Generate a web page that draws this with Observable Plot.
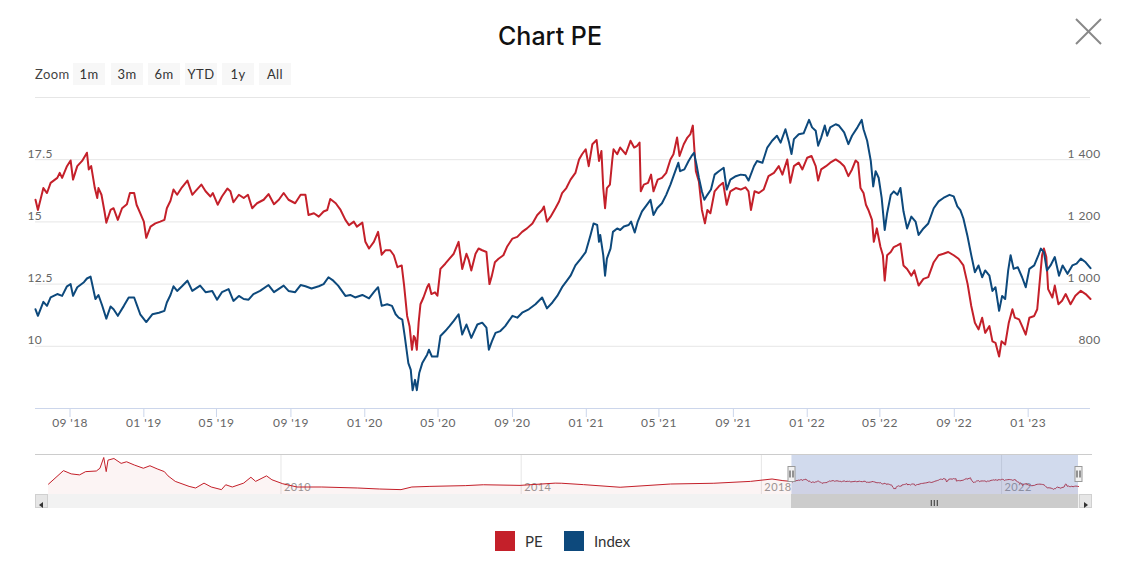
<!DOCTYPE html>
<html><head><meta charset="utf-8">
<script src="https://cdn.jsdelivr.net/npm/d3@7"></script>
<script src="https://cdn.jsdelivr.net/npm/@observablehq/plot@0.6"></script>
<style>
html,body{margin:0;padding:0;background:#fff;}
#root{position:relative;width:1125px;height:567px;overflow:hidden;font-family:Lato,"Open Sans",sans-serif;}
.abs{position:absolute;}
#title{left:0;top:18px;width:1100px;text-align:center;font-family:Inter,sans-serif;font-weight:500;font-size:25px;line-height:36px;color:#111;}
#zoomLabel{left:35px;top:63px;height:22px;line-height:22px;font-size:13px;color:#444;letter-spacing:0.4px;}
.zbtn{position:absolute;top:63px;height:22px;width:32px;background:#f7f7f7;color:#333;font-size:13px;line-height:22px;text-align:center;letter-spacing:0.4px;}
.legsq{position:absolute;width:20px;height:20px;top:531px;}
.legtx{position:absolute;top:531px;height:20px;line-height:20px;font-size:15px;color:#333;}
.sbtn{position:absolute;top:494px;width:13px;height:14px;background:#e6e6e6;border:1px solid #d0d0d0;box-sizing:border-box;}
</style></head>
<body>
<div id="root">
  <div id="title" class="abs">Chart PE</div>
  <div id="zoomLabel" class="abs">Zoom</div>
  <svg class="abs" style="left:1070px;top:13px" width="38" height="38"><line x1="6" y1="6" x2="31" y2="31" stroke="#888" stroke-width="2"/><line x1="31" y1="6" x2="6" y2="31" stroke="#888" stroke-width="2"/></svg>
  <div id="main" class="abs" style="left:0;top:90px"></div>
  <div class="abs" style="left:35px;top:494px;width:1057px;height:14px;background:#f2f2f2"></div>
  <div id="nav" class="abs" style="left:0;top:454px"></div>
  <div class="abs" style="left:35px;top:454px;width:1057px;height:1px;background:#cccccc"></div>
</div>
<script>
// ---- data ----
const peSeries = [
["2018-07-06",15.89],["2018-07-10",15.48],["2018-07-19",16.36],["2018-07-25",16.16],["2018-07-31",16.57],["2018-08-11",16.77],["2018-08-15",16.97],["2018-08-19",16.77],["2018-08-27",17.24],["2018-09-02",17.47],["2018-09-06",16.70],["2018-09-13",17.24],["2018-09-21",17.45],["2018-09-29",17.78],["2018-10-02",17.11],["2018-10-06",17.24],["2018-10-12",16.36],["2018-10-16",15.96],["2018-10-18",16.36],["2018-10-23",16.09],["2018-10-28",15.42],["2018-10-31",14.97],["2018-11-07",15.48],["2018-11-12",15.55],["2018-11-19",15.08],["2018-11-26",15.55],["2018-12-04",15.71],["2018-12-09",16.16],["2018-12-16",16.16],["2018-12-20",15.69],["2018-12-26",15.35],
["2019-01-01",15.01],["2019-01-05",14.36],["2019-01-12",14.81],["2019-01-20",14.94],["2019-01-28",15.01],["2019-02-04",15.08],["2019-02-08",15.55],["2019-02-14",15.85],["2019-02-19",16.30],["2019-02-25",16.09],["2019-03-05",16.39],["2019-03-14",16.66],["2019-03-22",16.09],["2019-03-27",16.23],["2019-04-06",16.50],["2019-04-13",16.23],["2019-04-21",16.02],["2019-04-25",16.16],["2019-05-03",15.69],["2019-05-10",16.02],["2019-05-19",16.34],["2019-05-24",16.23],["2019-05-29",15.79],["2019-06-07",16.09],["2019-06-15",15.96],["2019-06-22",16.09],["2019-06-29",15.55],["2019-07-07",15.75],["2019-07-18",15.89],["2019-07-26",16.12],["2019-08-04",15.71],["2019-08-12",15.89],["2019-08-20",16.16],["2019-08-28",15.89],["2019-09-08",15.75],["2019-09-17",16.09],["2019-09-25",16.09],["2019-09-30",15.28],["2019-10-09",15.35],["2019-10-17",15.21],["2019-10-25",15.42],["2019-10-31",15.48],["2019-11-05",15.92],["2019-11-14",15.75],["2019-11-22",15.48],["2019-11-30",15.08],["2019-12-06",14.87],["2019-12-14",15.01],["2019-12-19",14.81],["2019-12-28",14.97],
["2020-01-02",14.20],["2020-01-08",13.93],["2020-01-16",14.20],["2020-01-23",14.60],["2020-01-29",13.68],["2020-02-04",13.86],["2020-02-12",13.86],["2020-02-18",13.66],["2020-02-24",13.18],["2020-03-02",13.25],["2020-03-06",12.44],["2020-03-11",11.22],["2020-03-15",10.81],["2020-03-19",9.86],["2020-03-22",10.41],["2020-03-24",10.34],["2020-03-27",9.86],["2020-03-30",10.95],["2020-04-02",11.69],["2020-04-07",11.96],["2020-04-13",12.37],["2020-04-16",12.50],["2020-04-20",12.10],["2020-04-26",12.17],["2020-04-30",12.03],["2020-05-05",13.11],["2020-05-13",13.32],["2020-05-20",13.52],["2020-05-27",13.72],["2020-06-04",14.20],["2020-06-10",13.11],["2020-06-17",13.72],["2020-06-21",13.45],["2020-06-25",13.05],["2020-07-02",13.72],["2020-07-07",13.93],["2020-07-13",13.86],["2020-07-20",13.79],["2020-07-23",12.98],["2020-07-25",12.50],["2020-07-29",12.84],["2020-08-03",13.38],["2020-08-09",13.52],["2020-08-17",13.66],["2020-08-23",14.00],["2020-09-01",14.33],["2020-09-09",14.40],["2020-09-17",14.60],["2020-09-25",14.74],["2020-10-04",14.94],["2020-10-12",15.28],["2020-10-20",15.48],["2020-10-23",15.62],["2020-10-28",15.01],["2020-11-03",15.21],["2020-11-11",15.55],["2020-11-17",15.82],["2020-11-22",16.16],["2020-11-29",16.36],["2020-12-06",16.70],["2020-12-14",16.97],["2020-12-20",17.51],["2020-12-25",17.72],["2020-12-31",17.92],
["2021-01-05",17.24],["2021-01-11",18.12],["2021-01-18",18.29],["2021-01-22",17.45],["2021-01-26",17.85],["2021-01-29",16.36],["2021-02-01",15.55],["2021-02-04",16.36],["2021-02-09",16.50],["2021-02-13",17.51],["2021-02-15",17.92],["2021-02-21",17.72],["2021-02-26",17.99],["2021-03-07",17.72],["2021-03-15",18.26],["2021-03-21",17.99],["2021-03-26",18.06],["2021-03-30",18.19],["2021-04-01",16.23],["2021-04-06",16.50],["2021-04-13",16.57],["2021-04-18",16.90],["2021-04-22",16.23],["2021-04-29",16.70],["2021-05-06",16.77],["2021-05-13",16.97],["2021-05-20",17.51],["2021-05-25",17.72],["2021-05-31",18.39],["2021-06-04",17.65],["2021-06-11",18.12],["2021-06-17",18.39],["2021-06-22",18.53],["2021-06-26",18.87],["2021-06-28",18.12],["2021-07-01",17.04],["2021-07-06",16.63],["2021-07-11",15.48],["2021-07-16",14.94],["2021-07-20",15.48],["2021-07-25",15.35],["2021-08-01",16.23],["2021-08-08",16.43],["2021-08-15",16.57],["2021-08-21",15.69],["2021-08-27",16.23],["2021-09-05",16.36],["2021-09-13",16.30],["2021-09-21",16.39],["2021-09-26",16.23],["2021-09-30",15.48],["2021-10-06",16.23],["2021-10-13",16.16],["2021-10-21",16.30],["2021-10-29",16.84],["2021-11-07",16.97],["2021-11-15",17.24],["2021-11-21",16.90],["2021-11-29",17.51],["2021-12-04",16.57],["2021-12-10",17.24],["2021-12-18",17.38],["2021-12-24",17.11],
["2022-01-01",17.58],["2022-01-08",17.65],["2022-01-15",17.24],["2022-01-19",16.66],["2022-01-24",17.11],["2022-02-01",17.24],["2022-02-08",17.38],["2022-02-17",17.51],["2022-02-25",17.38],["2022-03-03",17.24],["2022-03-10",16.84],["2022-03-16",17.11],["2022-03-22",17.47],["2022-03-26",17.38],["2022-03-30",16.36],["2022-04-04",16.16],["2022-04-08",15.69],["2022-04-12",15.48],["2022-04-18",15.08],["2022-04-21",14.20],["2022-04-26",14.74],["2022-05-02",13.99],["2022-05-06",13.66],["2022-05-09",12.64],["2022-05-13",13.66],["2022-05-19",13.79],["2022-05-24",13.99],["2022-05-30",14.06],["2022-06-04",14.13],["2022-06-09",13.25],["2022-06-15",13.11],["2022-06-22",12.84],["2022-06-27",13.05],["2022-07-04",12.44],["2022-07-12",12.71],["2022-07-20",12.78],["2022-07-29",13.38],["2022-08-06",13.66],["2022-08-14",13.72],["2022-08-22",13.79],["2022-08-31",13.66],["2022-09-08",13.52],["2022-09-16",13.25],["2022-09-23",12.50],["2022-09-29",11.62],["2022-10-05",10.95],["2022-10-11",10.68],["2022-10-17",11.15],["2022-10-22",10.54],["2022-10-29",10.81],["2022-11-03",10.20],["2022-11-08",10.14],["2022-11-14",9.59],["2022-11-18",10.20],["2022-11-24",10.07],["2022-11-30",10.95],["2022-12-06",11.49],["2022-12-10",11.15],["2022-12-17",11.08],["2022-12-22",10.81],["2022-12-28",10.47],
["2023-01-03",11.15],["2023-01-11",11.22],["2023-01-16",11.49],["2023-01-22",13.11],["2023-01-24",13.66],["2023-01-27",13.93],["2023-01-31",13.59],["2023-02-03",12.30],["2023-02-10",11.96],["2023-02-14",12.44],["2023-02-20",11.69],["2023-02-26",11.83],["2023-03-04",12.10],["2023-03-12",11.69],["2023-03-20",12.03],["2023-03-29",12.23],["2023-04-06",12.10],["2023-04-14",11.90]
];
const indexSeries = [
["2018-07-06",919],["2018-07-10",898],["2018-07-19",943],["2018-07-25",930],["2018-07-31",957],["2018-08-11",968],["2018-08-19",962],["2018-08-27",993],["2018-09-02",1000],["2018-09-06",962],["2018-09-13",990],["2018-09-24",1006],["2018-09-29",1018],["2018-10-05",1024],["2018-10-07",1006],["2018-10-13",952],["2018-10-18",965],["2018-10-24",932],["2018-10-31",889],["2018-11-07",928],["2018-11-12",919],["2018-11-19",898],["2018-11-29",930],["2018-12-07",957],["2018-12-16",957],["2018-12-21",930],["2018-12-26",903],
["2019-01-05",878],["2019-01-15",903],["2019-01-26",908],["2019-02-04",914],["2019-02-08",941],["2019-02-14",965],["2019-02-19",993],["2019-02-25",978],["2019-03-05",993],["2019-03-14",1011],["2019-03-22",978],["2019-04-04",995],["2019-04-13",974],["2019-04-24",978],["2019-05-02",950],["2019-05-10",974],["2019-05-21",984],["2019-05-29",946],["2019-06-07",962],["2019-06-15",952],["2019-06-23",950],["2019-07-01",968],["2019-07-12",978],["2019-07-26",997],["2019-08-04",974],["2019-08-20",995],["2019-08-28",978],["2019-09-08",974],["2019-09-17",997],["2019-09-25",993],["2019-10-05",986],["2019-10-17",993],["2019-10-25",1000],["2019-11-02",1022],["2019-11-10",1011],["2019-11-18",995],["2019-11-30",962],["2019-12-08",965],["2019-12-16",957],["2019-12-28",965],
["2020-01-08",954],["2020-01-16",974],["2020-01-23",990],["2020-01-29",930],["2020-02-07",935],["2020-02-15",930],["2020-02-21",903],["2020-02-26",892],["2020-03-03",886],["2020-03-07",833],["2020-03-13",746],["2020-03-17",724],["2020-03-20",659],["2020-03-24",692],["2020-03-27",659],["2020-03-31",714],["2020-04-05",746],["2020-04-13",773],["2020-04-16",789],["2020-04-21",767],["2020-04-30",767],["2020-05-05",833],["2020-05-13",849],["2020-05-20",865],["2020-05-27",882],["2020-06-04",903],["2020-06-10",838],["2020-06-17",870],["2020-06-25",827],["2020-07-05",870],["2020-07-13",876],["2020-07-20",860],["2020-07-24",789],["2020-07-29",816],["2020-08-04",843],["2020-08-12",849],["2020-08-20",865],["2020-09-01",898],["2020-09-09",892],["2020-09-17",908],["2020-09-28",919],["2020-10-09",935],["2020-10-20",957],["2020-10-28",922],["2020-11-06",941],["2020-11-14",962],["2020-11-22",990],["2020-11-30",1011],["2020-12-06",1027],["2020-12-14",1060],["2020-12-23",1082],["2020-12-31",1103],
["2021-01-08",1158],["2021-01-13",1195],["2021-01-19",1190],["2021-01-22",1136],["2021-01-24",1158],["2021-01-29",1093],["2021-02-01",1027],["2021-02-04",1082],["2021-02-10",1114],["2021-02-14",1168],["2021-02-21",1179],["2021-02-26",1174],["2021-03-04",1185],["2021-03-12",1190],["2021-03-16",1201],["2021-03-22",1166],["2021-03-27",1201],["2021-04-03",1234],["2021-04-11",1255],["2021-04-17",1271],["2021-04-22",1222],["2021-04-28",1244],["2021-05-06",1260],["2021-05-13",1287],["2021-05-20",1320],["2021-05-28",1363],["2021-06-02",1390],["2021-06-05",1363],["2021-06-12",1369],["2021-06-19",1396],["2021-06-24",1412],["2021-06-28",1422],["2021-07-02",1385],["2021-07-06",1342],["2021-07-11",1298],["2021-07-15",1271],["2021-07-20",1287],["2021-07-26",1304],["2021-08-01",1352],["2021-08-08",1363],["2021-08-16",1374],["2021-08-21",1304],["2021-08-27",1336],["2021-09-05",1347],["2021-09-13",1352],["2021-09-21",1350],["2021-09-26",1333],["2021-10-05",1379],["2021-10-10",1396],["2021-10-19",1390],["2021-10-27",1439],["2021-11-04",1461],["2021-11-12",1477],["2021-11-18",1455],["2021-11-26",1498],["2021-12-02",1455],["2021-12-06",1418],["2021-12-10",1466],["2021-12-18",1482],["2021-12-26",1485],
["2022-01-04",1528],["2022-01-09",1504],["2022-01-15",1493],["2022-01-19",1445],["2022-01-24",1471],["2022-01-30",1510],["2022-02-03",1477],["2022-02-08",1504],["2022-02-17",1514],["2022-02-22",1510],["2022-03-03",1488],["2022-03-10",1450],["2022-03-16",1477],["2022-03-25",1504],["2022-04-01",1528],["2022-04-04",1498],["2022-04-10",1461],["2022-04-16",1396],["2022-04-20",1314],["2022-04-24",1363],["2022-04-29",1342],["2022-05-04",1277],["2022-05-09",1174],["2022-05-13",1228],["2022-05-19",1287],["2022-05-24",1298],["2022-05-30",1287],["2022-06-04",1309],["2022-06-09",1234],["2022-06-15",1179],["2022-06-22",1217],["2022-06-29",1201],["2022-07-04",1158],["2022-07-12",1179],["2022-07-20",1195],["2022-07-29",1244],["2022-08-06",1266],["2022-08-14",1277],["2022-08-24",1287],["2022-08-31",1282],["2022-09-06",1250],["2022-09-11",1238],["2022-09-16",1211],["2022-09-23",1152],["2022-09-29",1093],["2022-10-05",1038],["2022-10-11",1060],["2022-10-17",1022],["2022-10-22",1044],["2022-10-29",1027],["2022-11-03",978],["2022-11-08",990],["2022-11-14",914],["2022-11-19",962],["2022-11-24",952],["2022-11-29",1044],["2022-12-03",1093],["2022-12-08",1049],["2022-12-15",1054],["2022-12-22",1022],["2022-12-28",990],
["2023-01-03",1049],["2023-01-11",1060],["2023-01-18",1093],["2023-01-22",1114],["2023-01-27",1103],["2023-02-01",1044],["2023-02-07",1060],["2023-02-14",1087],["2023-02-21",1027],["2023-02-27",1060],["2023-03-07",1033],["2023-03-15",1060],["2023-03-22",1066],["2023-03-29",1082],["2023-04-06",1070],["2023-04-14",1051]
];
// PE history shown only in the navigator (before the selected range)
const navHistory = [
["2006-02-17",13.8],["2006-05-19",24.6],["2006-07-05",22.0],["2006-08-25",21.2],["2006-10-01",23.8],["2006-12-05",24.3],["2006-12-27",26.5],["2007-01-19",35.1],["2007-02-03",23.8],["2007-02-14",33.0],["2007-03-22",34.3],["2007-05-05",30.4],["2007-06-07",31.7],["2007-07-24",29.1],["2007-09-17",26.5],["2007-10-27",28.5],["2007-12-10",26.0],["2008-01-23",23.8],["2008-02-14",20.4],["2008-03-29",16.0],["2008-06-21",12.0],["2008-07-31",10.7],["2008-09-20",14.6],["2008-11-03",11.5],["2009-01-04",9.4],["2009-01-30",13.3],["2009-03-11",11.5],["2009-05-19",14.6],["2009-07-02",19.3],["2009-07-31",16.0],["2009-10-05",20.4],["2009-11-07",17.3],["2010-01-12",14.1],["2010-04-09",11.5],["2010-09-06",11.5],["2011-04-13",10.7],["2011-08-22",9.9],["2012-01-01",9.4],["2012-03-07",11.5],["2012-06-25",12.0],["2013-01-26",12.6],["2013-05-16",13.3],["2013-12-25",12.8],["2014-07-27",14.6],["2014-09-05",14.5],["2015-01-15",13.4],["2015-08-26",11.3],["2016-06-28",13.9],["2017-03-18",14.5],["2017-10-27",16.0],["2018-03-07",17.9],["2018-05-12",16.6]
];
const xTicks = ["2018-09-01","2019-01-01","2019-05-01","2019-09-01","2020-01-01","2020-05-01","2020-09-01","2021-01-01","2021-05-01","2021-09-01","2022-01-01","2022-05-01","2022-09-01","2023-01-01"];
const navYearTicks = ["2010-01-01","2014-01-01","2018-01-01","2022-01-01"];
const peTicks = [10, 12.5, 15, 17.5];
const yDomain = [7.5, 20];          // PE axis extent (top grid line at 20)
const indexPerPE = 80;              // right axis: Index = 80 × PE grid value
const navYDomain = [5.5, 37.5];
const zoomButtons = ["1m","3m","6m","YTD","1y","All"];
const legendItems = [{name: "PE", color: "#c4202a"}, {name: "Index", color: "#0d497c"}];

// ---- build ----
const parse = d3.utcParse("%Y-%m-%d");
const toRows = s => s.map(([d, v]) => ({date: parse(d), value: v}));
const pe = toRows(peSeries);
const idx = toRows(indexSeries);
const navData = toRows(navHistory).concat(pe);
const red = legendItems[0].color, blue = legendItems[1].color;
const xDomain = [pe[0].date, pe[pe.length - 1].date];
const spaceFmt = d3.formatLocale({decimal: ".", thousands: " ", grouping: [3], currency: ["", ""]}).format(",");
const font = {fontFamily: "Lato, 'Open Sans', sans-serif", fontSize: "12px", color: "#666", background: "transparent", overflow: "visible", letterSpacing: "0.4px"};

const mainChart = Plot.plot({
  width: 1125, height: 350,
  marginTop: 7, marginBottom: 32, marginLeft: 35, marginRight: 35,
  style: font,
  x: {type: "utc", domain: xDomain},
  y: {domain: yDomain},
  marks: [
    Plot.gridY([...peTicks, yDomain[1]], {stroke: "#e6e6e6", strokeOpacity: 1}),
    Plot.ruleY([yDomain[0]], {stroke: "#ccd6eb"}),
    Plot.axisY(peTicks, {anchor: "left", tickSize: 0, tickPadding: 0, dx: -8, textAnchor: "start", lineAnchor: "bottom", dy: -2, tickFormat: d => String(d), fill: "#666", label: null}),
    Plot.axisY(peTicks, {anchor: "right", tickSize: 0, tickPadding: 0, dx: 10, textAnchor: "end", lineAnchor: "bottom", dy: -2, tickFormat: d => spaceFmt(d * indexPerPE), fill: "#666", label: null}),
    Plot.axisX(xTicks.map(parse), {anchor: "bottom", tickSize: 9, tickPadding: 1, stroke: "#ccd6eb", fill: "#666", tickFormat: d3.utcFormat("%m '%y"), label: null}),
    Plot.lineY(pe, {x: "date", y: "value", stroke: red, strokeWidth: 2}),
    Plot.lineY(idx, {x: "date", y: d => d.value / indexPerPE, stroke: blue, strokeWidth: 2})
  ]
});
document.getElementById("main").appendChild(mainChart);

const selection = [{start: xDomain[0], end: xDomain[1]}];
const navChart = Plot.plot({
  width: 1125, height: 40,
  marginTop: 0, marginBottom: 0, marginLeft: 48, marginRight: 47,
  style: font,
  x: {type: "utc", domain: d3.extent(navData, d => d.date)},
  y: {domain: navYDomain, axis: null},
  marks: [
    Plot.gridX(navYearTicks.map(parse), {stroke: "#e6e6e6", strokeOpacity: 1}),
    Plot.axisX(navYearTicks.map(parse), {anchor: "bottom", tickSize: 0, tickPadding: 0, textAnchor: "start", dx: 3, lineAnchor: "bottom", dy: -4, fill: "#999", fontSize: 11, tickFormat: d3.utcFormat("%Y"), label: null}),
    Plot.areaY(navData, {x: "date", y1: () => navYDomain[0], y2: "value", fill: red, fillOpacity: 0.05}),
    Plot.lineY(navData, {x: "date", y: "value", stroke: red, strokeWidth: 1}),
    Plot.rect(selection, {x1: "start", x2: "end", y1: () => navYDomain[0], y2: () => navYDomain[1], fill: "rgb(102,133,194)", fillOpacity: 0.3})
  ]
});
document.getElementById("nav").appendChild(navChart);

// handles, scrollbar thumb, buttons positioned from the navigator x scale
const nx = navChart.scale("x");
const sx1 = nx.apply(selection[0].start), sx2 = nx.apply(selection[0].end);
const svg = d3.select(navChart);
for (const hx of [sx1, sx2]) {
  const g = svg.append("g").attr("transform", `translate(${Math.round(hx) + 0.5},12.5)`);
  g.append("rect").attr("x", -3.5).attr("y", 0).attr("width", 7).attr("height", 15).attr("fill", "#f2f2f2").attr("stroke", "#999");
  g.append("line").attr("x1", -1.5).attr("x2", -1.5).attr("y1", 4).attr("y2", 11).attr("stroke", "#333");
  g.append("line").attr("x1", 1.5).attr("x2", 1.5).attr("y1", 4).attr("y2", 11).attr("stroke", "#333");
}
const root = document.getElementById("root");
function addDiv(style, cls, html) { const d = document.createElement("div"); if (cls) d.className = cls; d.style.cssText = style; if (html) d.innerHTML = html; root.appendChild(d); return d; }
addDiv(`position:absolute;left:${sx1}px;top:494px;width:${sx2 - sx1}px;height:14px;background:#cccccc`, "",
  `<svg width="${sx2 - sx1}" height="14"><g transform="translate(${(sx2 - sx1) / 2},7)" stroke="#333"><line x1="-3" x2="-3" y1="-3" y2="3"/><line x1="0" x2="0" y1="-3" y2="3"/><line x1="3" x2="3" y1="-3" y2="3"/></g></svg>`);
addDiv("left:35px", "sbtn", `<svg width="11" height="12"><path d="M7 3 L3 6 L7 9 Z" fill="#333"/></svg>`);
addDiv("left:1079px", "sbtn", `<svg width="11" height="12"><path d="M4 3 L8 6 L4 9 Z" fill="#333"/></svg>`);

// zoom buttons
const btnLeft = [73, 111, 148, 185, 222, 259];
zoomButtons.forEach((t, i) => addDiv(`left:${btnLeft[i]}px`, "zbtn", t));

// legend
const legX = [[495, 525], [564, 594]];
legendItems.forEach((it, i) => {
  addDiv(`left:${legX[i][0]}px;background:${it.color}`, "legsq");
  addDiv(`left:${legX[i][1]}px`, "legtx", it.name);
});
</script>
</body></html>
